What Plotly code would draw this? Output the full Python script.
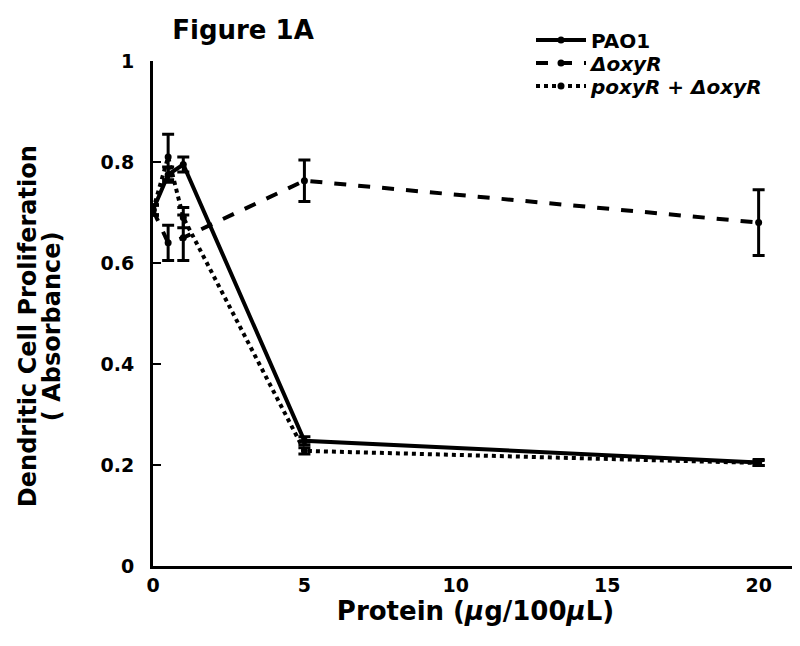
import plotly.graph_objects as go

protein = [0, 0.5, 1, 5, 20]

pao1 = [0.705, 0.775, 0.795, 0.248, 0.205]
pao1_err = [0.01, 0.015, 0.015, 0.008, 0.006]

oxyr = [0.705, 0.64, 0.65, 0.763, 0.68]
oxyr_err = [0.01, 0.035, 0.045, 0.041, 0.065]

comp = [0.705, 0.81, 0.69, 0.228, 0.204]
comp_err = [0.01, 0.045, 0.02, 0.006, 0.005]

names = ["PAO1", "<i>ΔoxyR</i>", "<i>poxyR + ΔoxyR</i>"]
dashes = ["solid", "dash", "dot"]
legend_ids = ["legend", "legend2", "legend3"]

FONT = "DejaVu Sans, Arial, sans-serif"

fig = go.Figure()
for y, e, n, d, lg in zip([pao1, oxyr, comp], [pao1_err, oxyr_err, comp_err], names, dashes, legend_ids):
    fig.add_trace(go.Scatter(
        x=protein, y=y, name=n, mode="lines+markers", legend=lg,
        line=dict(color="black", width=4, dash=d),
        marker=dict(color="black", size=7, symbol="circle"),
        error_y=dict(type="data", array=e, visible=True, color="black", thickness=3, width=6),
    ))

# y-axis title as two tightly spaced rotated lines
ytitle_lines = ["Dendritic Cell Proliferation", "( Absorbance)"]
for i, txt in enumerate(ytitle_lines):
    fig.add_annotation(text="<b>" + txt + "</b>", textangle=-90,
                       xref="paper", yref="paper", x=(20 + 24 * i - 145) / 645, y=0.475,
                       xanchor="center", yanchor="middle", showarrow=False,
                       font=dict(size=24, family=FONT, color="black"))

legend_style = dict(xanchor="left", yanchor="middle", bgcolor="rgba(0,0,0,0)",
                    itemwidth=50, borderwidth=0,
                    font=dict(size=20, family=FONT, color="black", weight="bold"))
legend_rows_px = [32, 55, 78]
legend_layout = {}
for lg, ypx in zip(legend_ids, legend_rows_px):
    legend_layout[lg] = dict(x=(523 - 145) / 645, y=(558 - ypx) / 505, **legend_style)

fig.update_layout(
    width=800, height=646,
    margin=dict(l=145, r=10, t=53, b=88),
    paper_bgcolor="white", plot_bgcolor="white",
    font=dict(family=FONT, color="black"),
    title=dict(text="<b>Figure 1A</b>", x=(235 - 145) / 645, xref="paper", xanchor="center",
               y=1 - 22 / 646, yref="container", yanchor="middle",
               font=dict(size=26, family=FONT, color="black")),
    showlegend=True,
    **legend_layout,
    xaxis=dict(range=[0, 21.3], tickvals=[0, 5, 10, 15, 20], ticks="",
               showline=True, linecolor="black", linewidth=3, showgrid=False, zeroline=False,
               tickfont=dict(size=19, family=FONT, color="black", weight="bold"),
               title=dict(text="<b>Protein (<i>μ</i>g/100<i>μ</i>L)</b>", standoff=8,
                          font=dict(size=26, family=FONT, color="black"))),
    yaxis=dict(range=[0, 1], tickvals=[0, 0.2, 0.4, 0.6, 0.8, 1], ticktext=["0", "0.2", "0.4", "0.6", "0.8", "1"],
               ticks="inside", ticklen=8, tickwidth=2, tickcolor="black",
               showline=True, linecolor="black", linewidth=3, showgrid=False, zeroline=False,
               ticklabelstandoff=12,
               tickfont=dict(size=19, family=FONT, color="black", weight="bold")),
)

fig.write_html("out.html")
